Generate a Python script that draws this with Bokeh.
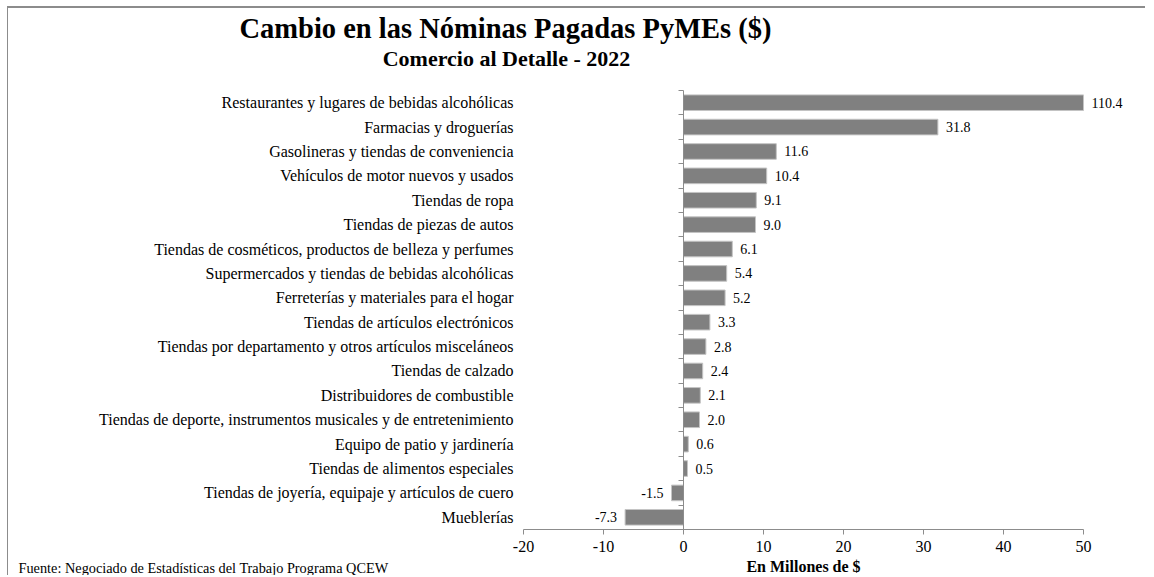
from bokeh.plotting import figure
from bokeh.models import (ColumnDataSource, FixedTicker, LinearAxis, Range1d,
                          LabelSet, Label)
from bokeh.embed import file_html
from bokeh.resources import INLINE

categories = [
    "Restaurantes y lugares de bebidas alcohólicas",
    "Farmacias y droguerías",
    "Gasolineras y tiendas de conveniencia",
    "Vehículos de motor nuevos y usados",
    "Tiendas de ropa",
    "Tiendas de piezas de autos",
    "Tiendas de cosméticos, productos de belleza y perfumes",
    "Supermercados y tiendas de bebidas alcohólicas",
    "Ferreterías y materiales para el hogar",
    "Tiendas de artículos electrónicos",
    "Tiendas por departamento y otros artículos misceláneos",
    "Tiendas de calzado",
    "Distribuidores de combustible",
    "Tiendas de deporte, instrumentos musicales y de entretenimiento",
    "Equipo de patio y jardinería",
    "Tiendas de alimentos especiales",
    "Tiendas de joyería, equipaje y artículos de cuero",
    "Mueblerías",
]
values = [110.4, 31.8, 11.6, 10.4, 9.1, 9.0, 6.1, 5.4, 5.2, 3.3, 2.8, 2.4,
          2.1, 2.0, 0.6, 0.5, -1.5, -7.3]
x_ticks = [-20, -10, 0, 10, 20, 30, 40, 50]
x_tick_labels = ["-20", "-10", "0", "10", "20", "30", "40", "50"]

title_text = "Cambio en las Nóminas Pagadas PyMEs ($)"
subtitle_text = "Comercio al Detalle - 2022"
x_label = "En Millones de $"
source_text = "Fuente: Negociado de Estadísticas del Trabajo Programa QCEW"

FONT = "Liberation Serif"
GRAY = "#8c8c8c"

# ---- layout (page pixels) ----
W, H = 1138, 569            # canvas size
OX, OY = 8, 8               # canvas origin on the page
PLOT_L, PLOT_R = 523, 1083  # plot area left/right
PLOT_T, PLOT_B = 90, 529    # plot area top/bottom

XMIN, XMAX = x_ticks[0], x_ticks[-1]
n = len(categories)
px_x = (PLOT_R - PLOT_L) / (XMAX - XMIN)
px_y = (PLOT_B - PLOT_T) / n
x_start = XMIN - (PLOT_L - OX) / px_x
x_end = XMAX + (OX + W - PLOT_R) / px_x
y_start = -0.5 - (OY + H - PLOT_B) / px_y
y_end = n - 0.5 + (PLOT_T - OY) / px_y

ypos = [n - 1 - i for i in range(n)]
bar_right = [min(max(v, XMIN), XMAX) for v in values]
src = ColumnDataSource(dict(
    y=ypos, v=values, r=bar_right,
    txt=[f"{v:.1f}" for v in values],
    xo=[8 if v >= 0 else -8 for v in values],
    ta=["left" if v >= 0 else "right" for v in values],
))

p = figure(width=W, height=H, output_backend="svg", toolbar_location=None,
           x_range=Range1d(x_start, x_end), y_range=Range1d(y_start, y_end),
           min_border=0, y_axis_location=None, x_axis_location=None)
p.outline_line_color = None
p.xgrid.visible = False
p.ygrid.visible = False
p.styles = {"margin-left": "7px", "margin-top": "6px",
            "border-top": "2px solid #8c8c8c", "border-left": "1px solid #8c8c8c"}

p.hbar(y="y", left=0, right="r", height=0.64, source=src,
       fill_color="#808080", line_color="#c4c4c4", line_width=1)

# category labels axis (at left edge of plot area)
lab_axis = LinearAxis(fixed_location=XMIN, bounds=(-0.5, n - 0.5),
                      ticker=FixedTicker(ticks=ypos),
                      major_label_overrides={y: c for y, c in zip(ypos, categories)})
lab_axis.axis_line_color = None
lab_axis.major_tick_line_color = None
lab_axis.minor_tick_line_color = None
lab_axis.major_label_text_font = FONT
lab_axis.major_label_text_font_size = "16px"
lab_axis.major_label_text_color = "black"
lab_axis.major_label_standoff = 4
p.add_layout(lab_axis, "left")

# zero line with ticks at category boundaries
zero_axis = LinearAxis(fixed_location=0, bounds=(-0.5, n - 0.5),
                       ticker=FixedTicker(ticks=[], minor_ticks=[y - 0.5 for y in ypos] + [n - 0.5]))
zero_axis.axis_line_color = GRAY
zero_axis.minor_tick_line_color = GRAY
zero_axis.minor_tick_out = 5
zero_axis.minor_tick_in = 0
zero_axis.major_tick_line_color = None
zero_axis.major_label_text_font_size = "0px"
p.add_layout(zero_axis, "left")

x_axis = LinearAxis(fixed_location=-0.5, bounds=(XMIN, XMAX),
                    ticker=FixedTicker(ticks=x_ticks), axis_label=x_label,
                    major_label_overrides={t: s for t, s in zip(x_ticks, x_tick_labels)})
x_axis.axis_line_color = GRAY
x_axis.major_tick_line_color = GRAY
x_axis.major_tick_out = 5
x_axis.major_tick_in = 0
x_axis.minor_tick_line_color = None
x_axis.major_label_text_font = FONT
x_axis.major_label_text_font_size = "16px"
x_axis.major_label_text_color = "black"
x_axis.major_label_standoff = 6
x_axis.axis_label_text_font = FONT
x_axis.axis_label_text_font_size = "16px"
x_axis.axis_label_text_font_style = "bold"
x_axis.axis_label_text_color = "black"
x_axis.axis_label_standoff = 3
p.add_layout(x_axis, "below")

p.add_layout(LabelSet(x="r", y="y", text="txt", x_offset="xo", text_align="ta",
                      text_baseline="middle", source=src, text_font=FONT,
                      text_font_size="14px", text_color="black"))

def sx(page_x):
    return page_x - OX

def sy(page_y):
    return OY + H - page_y

p.add_layout(Label(x=sx(505), y=sy(28), x_units="screen", y_units="screen",
                   text=title_text, text_align="center", text_baseline="middle",
                   text_font=FONT, text_font_size="28.5px", text_font_style="bold",
                   text_color="black"))
p.add_layout(Label(x=sx(506), y=sy(58), x_units="screen", y_units="screen",
                   text=subtitle_text, text_align="center", text_baseline="middle",
                   text_font=FONT, text_font_size="22px", text_font_style="bold",
                   text_color="black"))
p.add_layout(Label(x=sx(18), y=sy(567), x_units="screen", y_units="screen",
                   text=source_text, text_align="left", text_baseline="middle",
                   text_font=FONT, text_font_size="14.3px", text_color="black"))

open("out.html", "w").write(file_html(p, INLINE))
